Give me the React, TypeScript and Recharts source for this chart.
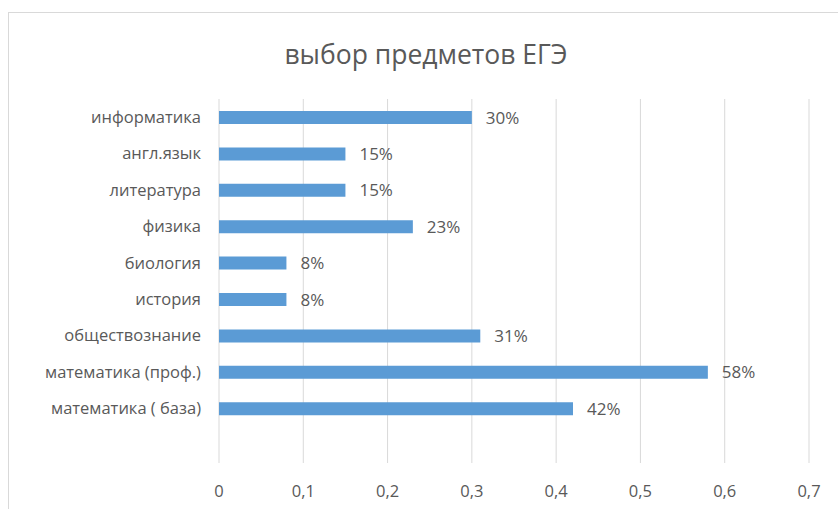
import React from "react";
import { BarChart, Bar, XAxis, YAxis, CartesianGrid, LabelList } from "recharts";

const categories = [
  "информатика ",
  "англ.язык",
  "литература",
  "физика",
  "биология",
  "история",
  "обществознание",
  "математика (проф.)",
  "математика ( база)",
  "",
];
const shares: (number | null)[] = [0.3, 0.15, 0.15, 0.23, 0.08, 0.08, 0.31, 0.58, 0.42, null];
const xTicks = [0, 0.1, 0.2, 0.3, 0.4, 0.5, 0.6, 0.7];
const title = "выбор предметов ЕГЭ";

const data = categories.map((name, i) => ({ name, value: shares[i] }));

const FONT = "'Open Sans', sans-serif";
const TEXT = "#595959";

export default function App() {
  return (
    <div style={{ position: "absolute", left: 0, top: 0, width: 838, height: 509, background: "#fff", fontFamily: FONT }}>
      <div
        style={{
          position: "absolute",
          left: 8,
          top: 12,
          width: 840,
          height: 510,
          border: "1px solid #D9D9D9",
          boxSizing: "border-box",
        }}
      />
      <div
        style={{
          position: "absolute",
          left: 0,
          width: 852,
          top: 36,
          textAlign: "center",
          fontSize: 26.5,
          color: TEXT,
          lineHeight: "36px",
        }}
      >
        {title}
      </div>
      <div style={{ position: "absolute", left: 0, top: 0 }}>
        <BarChart
          width={838}
          height={509}
          data={data}
          layout="vertical"
          margin={{ top: 99, right: 29, bottom: 16, left: 19 }}
          barCategoryGap={0}
        >
          <CartesianGrid horizontal={false} stroke="#D9D9D9" />
          <XAxis
            type="number"
            domain={[0, 0.7]}
            ticks={xTicks}
            axisLine={false}
            tickLine={false}
            tickMargin={16}
            height={30}
            tick={{ fill: TEXT, fontSize: 16.5, fontFamily: FONT }}
            tickFormatter={(v: number) => String(Math.round(v * 10) / 10).replace(".", ",")}
            interval={0}
          />
          <YAxis
            type="category"
            dataKey="name"
            width={200}
            axisLine={false}
            tickLine={false}
            tickMargin={12}
            interval={0}
            tick={{ fill: TEXT, fontSize: 16.5, fontFamily: FONT }}
          />
          <Bar dataKey="value" fill="#5B9BD5" barSize={13} isAnimationActive={false}>
            <LabelList
              dataKey="value"
              position="right"
              offset={14}
              fill={TEXT}
              fontSize={17}
              fontFamily={FONT}
              formatter={(v: any) => (v == null ? "" : Math.round(v * 100) + "%")}
            />
          </Bar>
        </BarChart>
      </div>
    </div>
  );
}
